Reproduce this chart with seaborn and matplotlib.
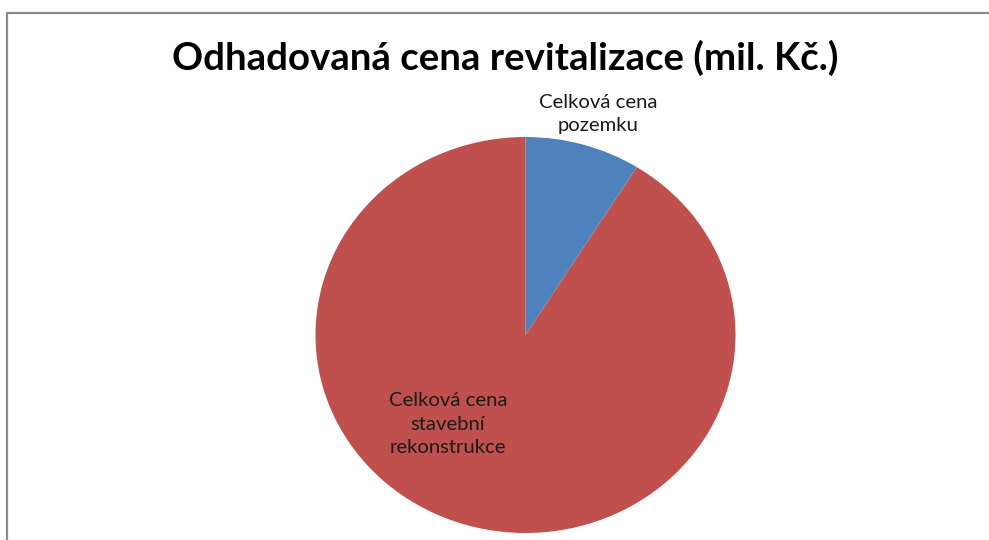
import matplotlib
matplotlib.use("Agg")
import matplotlib.pyplot as plt
from matplotlib.patches import Rectangle
import seaborn as sns

# Estimated revitalization cost components (mil. Kč)
categories = ["Celková cena\npozemku", "Celková cena\nstavební\nrekonstrukce"]
values = [30.0, 307.0]
colors = ["#4F81BD", "#C0504D"]
title = "Odhadovaná cena revitalizace (mil. Kč.)"

sns.set_theme(style="white")
plt.rcParams["font.family"] = ["Lato", "DejaVu Sans"]

W, H = 989, 540
fig = plt.figure(figsize=(W / 100, H / 100), dpi=100)
fig.patch.set_facecolor("white")

# chart-area frame (top and left edges visible)
fig.patches.append(Rectangle((7 / W, -0.1), 1.2, (H - 12.5) / H + 0.1,
                             transform=fig.transFigure, fill=False,
                             edgecolor="#8c8c8c", linewidth=1.6, zorder=0))

# pie axes, slightly wider than tall
ax = fig.add_axes([315.5 / W, (H - 533) / H, 420 / W, 396 / H])
ax.pie(values, colors=colors, startangle=90, counterclock=False,
       wedgeprops=dict(linewidth=0))
ax.set_xlim(-1, 1)
ax.set_ylim(-1, 1)
ax.set_aspect("auto")
ax.axis("off")

fig.text(505 / W, 1 - 58 / H, title, ha="center", va="center",
         fontsize=27.6, fontweight="bold", color="black")

fig.text(598 / W, 1 - 114 / H, categories[0], ha="center", va="center",
         fontsize=14.6, color="#1a1a1a", linespacing=1.45)
fig.text(448 / W, 1 - 424 / H, categories[1], ha="center", va="center",
         fontsize=14.6, color="#1a1a1a", linespacing=1.45)

fig.savefig("out.png", dpi=100)
